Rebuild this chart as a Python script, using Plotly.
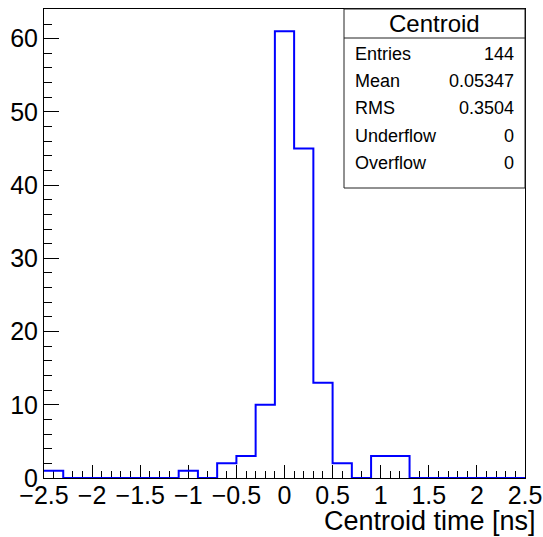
import plotly.graph_objects as go

# ---- data ----
bin_start = -2.5
bin_width = 0.2
counts = [1, 0, 0, 0, 0, 0, 0, 1, 0, 2, 3, 10, 61, 45, 13, 2, 0, 3, 3, 0, 0, 0, 0, 0, 0]
stat_labels = ["Entries", "Mean", "RMS", "Underflow", "Overflow"]
stat_values = ["144", "0.05347", "0.3504", "0", "0"]
hist_title = "Centroid"
x_title = "Centroid time [ns]"

edges = [bin_start + i * bin_width for i in range(len(counts) + 1)]
ys = counts + [counts[-1]]

W, H = 543, 537
L, R, T, B = 44, 525, 9, 478
FONT = "Liberation Sans, Arial, Helvetica, sans-serif"

fig = go.Figure()
fig.add_trace(go.Scatter(x=edges, y=ys, mode="lines", line_shape="hv",
                         line=dict(color="#0000ff", width=2), hoverinfo="skip",
                         showlegend=False))

fig.update_layout(
    width=W, height=H,
    margin=dict(l=L, r=W - R, t=T, b=H - B, pad=0, autoexpand=False),
    paper_bgcolor="white", plot_bgcolor="white",
    font=dict(family=FONT, color="black"),
    xaxis=dict(range=[-2.5, 2.5], dtick=0.5, tick0=0, ticks="inside", ticklen=13,
               tickwidth=1, tickcolor="black", showgrid=False, zeroline=False,
               showline=True, linecolor="black", linewidth=1, mirror=True,
               automargin=False, ticklabelstandoff=-5,
               tickfont=dict(size=25, family=FONT), layer="below traces",
               minor=dict(dtick=0.1, tick0=0, ticks="inside", ticklen=7,
                          tickcolor="black", tickwidth=1, showgrid=False)),
    yaxis=dict(range=[0, 64.05], dtick=10, tick0=0, ticks="inside", ticklen=15,
               tickwidth=1, tickcolor="black", showgrid=False, zeroline=False,
               showline=True, linecolor="black", linewidth=1, mirror=True,
               automargin=False,
               tickfont=dict(size=25, family=FONT), layer="below traces",
               minor=dict(dtick=2, tick0=0, ticks="inside", ticklen=8,
                          tickcolor="black", tickwidth=1, showgrid=False)),
)

def px_x(p):
    return (p - L) / (R - L)

def px_y(p):
    return (B - p) / (B - T)

# stats box
bx0, bx1, by0, by1, bdiv = 344, 525, 9, 188, 38
fig.add_shape(type="rect", xref="paper", yref="paper",
              x0=px_x(bx0), x1=px_x(bx1), y0=px_y(by1), y1=px_y(by0),
              line=dict(color="#222222", width=1), fillcolor="white", layer="above")
fig.add_shape(type="line", xref="paper", yref="paper",
              x0=px_x(bx0), x1=px_x(bx1), y0=px_y(bdiv), y1=px_y(bdiv),
              line=dict(color="#222222", width=1), layer="above")
fig.add_annotation(xref="paper", yref="paper", x=px_x((bx0 + bx1) / 2), y=px_y(23.5),
                   text=hist_title, showarrow=False, xanchor="center", yanchor="middle",
                   font=dict(size=24, family=FONT, color="black"))
row_y = [54, 81, 108.5, 135.5, 163]
for lab, val, yy in zip(stat_labels, stat_values, row_y):
    fig.add_annotation(xref="paper", yref="paper", x=px_x(353), y=px_y(yy), text=lab,
                       showarrow=False, xanchor="left", yanchor="middle",
                       font=dict(size=18, family=FONT, color="black"))
    fig.add_annotation(xref="paper", yref="paper", x=px_x(516), y=px_y(yy), text=val,
                       showarrow=False, xanchor="right", yanchor="middle",
                       font=dict(size=18, family=FONT, color="black"))

fig.add_annotation(xref="paper", yref="paper", x=px_x(538), y=px_y(521), text=x_title,
                   showarrow=False, xanchor="right", yanchor="middle",
                   font=dict(size=27, family=FONT, color="black"))

fig.write_html("out.html", config={"displayModeBar": False},
               post_script="document.body.style.margin='0';")
